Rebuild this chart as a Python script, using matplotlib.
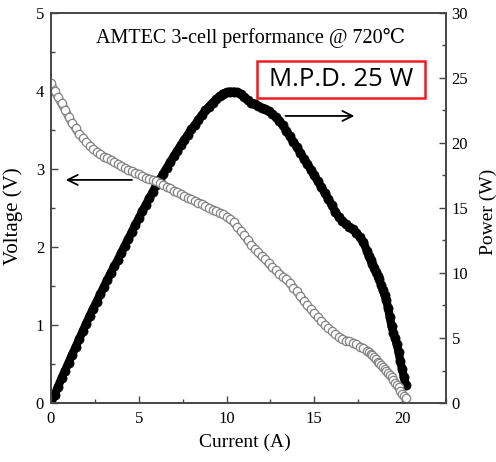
import matplotlib.pyplot as plt
from matplotlib.patches import Rectangle

# --- data ---
current_a = [
    0.0, 0.2, 0.4, 0.6, 0.8, 1.0, 1.2, 1.4, 1.6, 1.8,
    2.0, 2.2, 2.4, 2.6, 2.8, 3.0, 3.2, 3.4, 3.6, 3.8,
    4.0, 4.2, 4.4, 4.6, 4.8, 5.0, 5.2, 5.4, 5.6, 5.8,
    6.0, 6.2, 6.4, 6.6, 6.8, 7.0, 7.2, 7.4, 7.6, 7.8,
    8.0, 8.2, 8.4, 8.6, 8.8, 9.0, 9.2, 9.4, 9.6, 9.8,
    10.0, 10.2, 10.4, 10.6, 10.8, 11.0, 11.2, 11.4, 11.6, 11.8,
    12.0, 12.2, 12.4, 12.6, 12.8, 13.0, 13.2, 13.4, 13.6, 13.8,
    14.0, 14.2, 14.4, 14.6, 14.8, 15.0, 15.2, 15.4, 15.6, 15.8,
    16.0, 16.2, 16.4, 16.6, 16.8, 17.0, 17.2, 17.4, 17.6, 17.8,
    18.0, 18.1, 18.2, 18.3, 18.4, 18.5, 18.6, 18.7, 18.8, 18.9,
    19.0, 19.1, 19.2, 19.3, 19.4, 19.5, 19.6, 19.7, 19.8, 19.9,
    20.0, 20.1, 20.2,
]
voltage_v = [
    4.10, 4.00, 3.92, 3.84, 3.76, 3.67, 3.59, 3.52, 3.45, 3.40,
    3.35, 3.30, 3.26, 3.22, 3.19, 3.16, 3.14, 3.12, 3.09, 3.06,
    3.04, 3.01, 2.99, 2.97, 2.95, 2.93, 2.91, 2.89, 2.87, 2.86,
    2.84, 2.82, 2.80, 2.77, 2.75, 2.72, 2.70, 2.68, 2.65, 2.63,
    2.61, 2.59, 2.57, 2.55, 2.52, 2.50, 2.48, 2.46, 2.44, 2.42,
    2.39, 2.36, 2.32, 2.26, 2.21, 2.15, 2.09, 2.03, 1.98, 1.93,
    1.88, 1.84, 1.79, 1.74, 1.70, 1.66, 1.62, 1.59, 1.54, 1.48,
    1.43, 1.37, 1.31, 1.25, 1.20, 1.15, 1.10, 1.05, 1.00, 0.96,
    0.92, 0.88, 0.85, 0.82, 0.80, 0.79, 0.77, 0.75, 0.72, 0.70,
    0.67, 0.65, 0.63, 0.61, 0.59, 0.56, 0.53, 0.51, 0.49, 0.46,
    0.44, 0.41, 0.39, 0.36, 0.33, 0.30, 0.26, 0.23, 0.20, 0.16,
    0.12, 0.09, 0.06,
]
power_w = [
    0.0, 0.6, 1.25, 1.9, 2.5, 3.1, 3.7, 4.3, 4.9, 5.5,
    6.1, 6.7, 7.25, 7.8, 8.35, 8.9, 9.45, 10.0, 10.5, 11.0,
    11.55, 12.1, 12.6, 13.15, 13.7, 14.2, 14.75, 15.25, 15.75, 16.25,
    16.75, 17.2, 17.65, 18.1, 18.55, 19.0, 19.4, 19.85, 20.25, 20.65,
    21.05, 21.4, 21.8, 22.15, 22.5, 22.8, 23.1, 23.35, 23.6, 23.8,
    23.9, 23.95, 23.95, 23.9, 23.75, 23.5, 23.3, 23.1, 23.0, 22.85,
    22.7, 22.6, 22.45, 22.25, 22.0, 21.7, 21.35, 20.95, 20.5, 20.1,
    19.7, 19.25, 18.8, 18.4, 17.95, 17.5, 17.05, 16.6, 16.15, 15.7,
    15.2, 14.7, 14.3, 14.0, 13.75, 13.55, 13.35, 13.1, 12.75, 12.35,
    11.7, 11.3, 11.0, 10.7, 10.4, 10.1, 9.8, 9.5, 9.1, 8.7,
    8.3, 7.9, 7.3, 6.6, 5.9, 5.4, 5.0, 4.5, 3.9, 3.2,
    2.6, 2.0, 1.4,
]

x_ticks = [0, 5, 10, 15, 20]
v_ticks = [0, 1, 2, 3, 4, 5]
p_ticks = [0, 5, 10, 15, 20, 25, 30]

TITLE = "AMTEC 3-cell performance @ 720\u2103"
MPD_TEXT = "M.P.D. 25 W"

SERIF = ["Liberation Serif", "DejaVu Serif"]
plt.rcParams["font.family"] = SERIF

fig = plt.figure(figsize=(4.96, 4.62), dpi=100)
ax = fig.add_axes([0.1028, 0.1277, 0.7964, 0.8442])
ax2 = ax.twinx()

spine_col = "#454545"
grey = "#848484"

# power: thick band of filled circles
ax2.plot(current_a, power_w, "-", lw=6.0, color="black",
         solid_capstyle="round", solid_joinstyle="round")
ax2.plot(current_a, power_w, "o", ms=6.6, mfc="black", mec="black", mew=0.5)

# voltage: chain of open circles
ax.plot(current_a, voltage_v, "-", lw=6.2, color=grey,
        solid_capstyle="round", solid_joinstyle="round")
ax.plot(current_a, voltage_v, "-", lw=4.4, color="white",
        solid_capstyle="round", solid_joinstyle="round")
ax.plot(current_a, voltage_v, "o", ms=6.0, mfc="white", mec=grey, mew=0.9)

ax.set_zorder(ax2.get_zorder() + 1)
ax.patch.set_visible(False)

ax.set_xlim(0, 22.44)
ax.set_ylim(0, 5)
ax2.set_ylim(0, 30)

ax.set_xticks(x_ticks)
ax.set_xticks([2.5, 7.5, 12.5, 17.5, 22.5], minor=True)
ax.set_yticks(v_ticks)
ax.set_yticks([0.5, 1.5, 2.5, 3.5, 4.5], minor=True)
ax2.set_yticks(p_ticks)
ax2.set_yticks([2.5, 7.5, 12.5, 17.5, 22.5, 27.5], minor=True)

for a in (ax, ax2):
    for s in a.spines.values():
        s.set_color(spine_col)
        s.set_linewidth(1.2)
    a.tick_params(which="both", direction="in", color=spine_col, width=1.0)
    a.tick_params(which="major", length=5, labelsize=12)
    a.tick_params(which="minor", length=3)
ax.tick_params(axis="x", pad=6)
ax.tick_params(axis="y", pad=5)
ax2.tick_params(axis="y", pad=4)

ax.text(-0.097, 0.48, "Voltage (V)", transform=ax.transAxes, rotation=90,
        ha="center", va="center", fontsize=15)
ax.text(1.106, 0.49, "Power (W)", transform=ax.transAxes, rotation=90,
        ha="center", va="center", fontsize=14)
ax.text(0.49, -0.10, "Current (A)", transform=ax.transAxes,
        ha="center", va="center", fontsize=14)

ax.text(0.506, 0.923, TITLE, transform=ax.transAxes, ha="center",
        va="baseline", fontsize=14.5)

# red box with the max power note
ax.add_patch(Rectangle((0.5215, 0.782), 0.425, 0.0949, transform=ax.transAxes,
                       facecolor="white", edgecolor="#ee1c24", lw=1.8,
                       zorder=5))
ax.text(0.734, 0.829, MPD_TEXT, transform=ax.transAxes, ha="center",
        va="center", fontsize=18.5, family="Open Sans", zorder=6)

arrow = dict(arrowstyle="->", lw=1.3, color="black", mutation_scale=18)
ax.annotate("", xy=(0.68, 2.86), xytext=(4.77, 2.86), arrowprops=arrow)
ax.annotate("", xy=(17.44, 3.68), xytext=(13.2, 3.68), arrowprops=arrow)

fig.savefig("out.png", dpi=100)
